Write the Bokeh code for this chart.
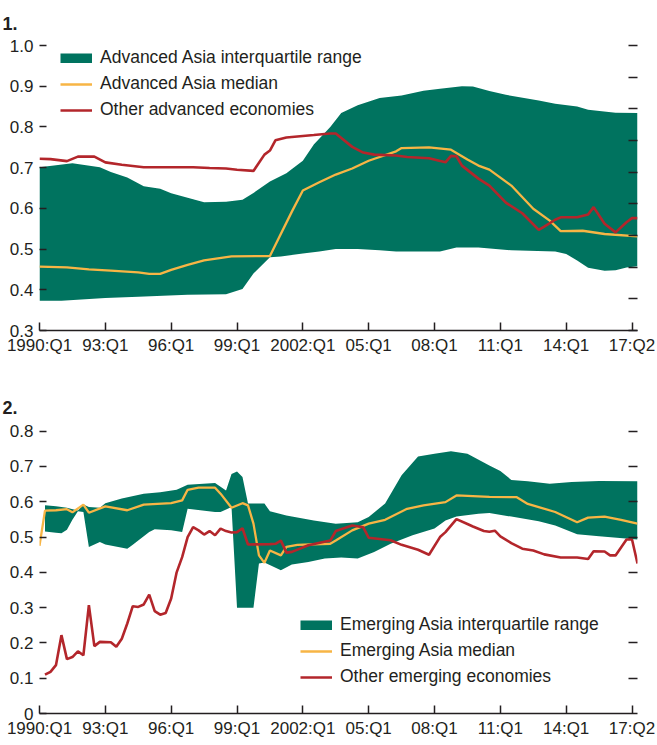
from bokeh.plotting import figure
from bokeh.models import FixedTicker, LinearAxis, Legend, LegendItem, Range1d
from bokeh.layouts import column
from bokeh.embed import file_html
from bokeh.resources import INLINE

FONT = "Liberation Sans"
TEXT = "#231f20"
TEAL = "#00735f"
GOLD = "#f7b545"
RED = "#b3262b"

# x positions are quarter indices counted from 1990:Q1 (= 0)
x_ticks = [0, 12, 24, 36, 48, 60, 72, 84, 96, 108]
x_labels = ["1990:Q1", "93:Q1", "96:Q1", "99:Q1", "2002:Q1", "05:Q1", "08:Q1", "11:Q1", "14:Q1", "17:Q2"]

# ---------------- Panel 1: advanced economies ----------------
y1_ticks = [0.3, 0.4, 0.5, 0.6, 0.7, 0.8, 0.9, 1.0]
y1_labels = ["0.3", "0.4", "0.5", "0.6", "0.7", "0.8", "0.9", "1.0"]

adv_upper_q = [0, 6, 11, 13, 16, 19, 22, 24, 27, 30, 34, 37, 39, 42, 45, 48, 50, 53, 55, 58, 62, 66, 70, 73, 77, 79, 82, 85, 91, 94, 98, 100, 105, 109]
adv_upper = [0.701, 0.711, 0.701, 0.689, 0.676, 0.654, 0.648, 0.637, 0.626, 0.615, 0.616, 0.621, 0.638, 0.666, 0.686, 0.717, 0.757, 0.800, 0.834, 0.853, 0.871, 0.877, 0.889, 0.894, 0.900, 0.899, 0.888, 0.879, 0.865, 0.857, 0.850, 0.842, 0.835, 0.834]

adv_lower_q = [0, 4, 12, 18, 27, 34, 37, 39, 42, 44, 48, 51, 54, 58, 62, 65, 73, 76, 80, 86, 94, 96, 98, 100, 103, 105, 107, 109]
adv_lower = [0.373, 0.373, 0.380, 0.383, 0.388, 0.389, 0.402, 0.440, 0.480, 0.482, 0.489, 0.494, 0.500, 0.500, 0.497, 0.494, 0.494, 0.504, 0.504, 0.497, 0.494, 0.488, 0.472, 0.454, 0.447, 0.448, 0.455, 0.458]

adv_median_q = [0, 5, 9, 13, 18, 20, 22, 24, 27, 30, 35, 42, 46, 48, 51, 54, 57, 60, 65, 66, 71, 75, 78, 80, 82, 86, 90, 93, 95, 99, 103, 109]
adv_median = [0.457, 0.455, 0.450, 0.447, 0.443, 0.439, 0.439, 0.449, 0.461, 0.472, 0.482, 0.483, 0.592, 0.644, 0.664, 0.683, 0.698, 0.717, 0.740, 0.748, 0.750, 0.744, 0.720, 0.705, 0.695, 0.656, 0.599, 0.570, 0.544, 0.545, 0.537, 0.531]

adv_other_q = [0, 2, 5, 7, 10, 12, 15, 19, 28, 31, 34, 36, 39, 41, 42, 43, 45, 50, 53, 54, 57, 59, 61, 65, 67, 71, 74, 75, 76, 77, 80, 82, 85, 88, 91, 92, 94, 95, 98, 100, 101, 103, 105, 107, 108, 109]
adv_other = [0.722, 0.721, 0.716, 0.727, 0.727, 0.713, 0.707, 0.701, 0.701, 0.699, 0.698, 0.695, 0.692, 0.732, 0.742, 0.767, 0.774, 0.780, 0.784, 0.784, 0.751, 0.737, 0.732, 0.730, 0.726, 0.723, 0.713, 0.729, 0.728, 0.705, 0.673, 0.656, 0.614, 0.588, 0.547, 0.555, 0.572, 0.578, 0.578, 0.585, 0.603, 0.562, 0.541, 0.566, 0.576, 0.576]

# ---------------- Panel 2: emerging economies ----------------
y2_ticks = [0, 0.1, 0.2, 0.3, 0.4, 0.5, 0.6, 0.7, 0.8]
y2_labels = ["0", "0.1", "0.2", "0.3", "0.4", "0.5", "0.6", "0.7", "0.8"]

em_upper_q = [1, 3, 5, 7, 8, 9, 11, 12, 15, 19, 22, 25, 27, 32, 34, 35, 36, 37, 38, 41, 42, 45, 50, 54, 58, 60, 63, 66, 69, 72, 75, 78, 82, 84, 86, 89, 93, 97, 102, 109]
em_upper = [0.590, 0.587, 0.583, 0.575, 0.592, 0.585, 0.583, 0.596, 0.609, 0.623, 0.627, 0.634, 0.648, 0.653, 0.632, 0.679, 0.686, 0.670, 0.595, 0.595, 0.573, 0.561, 0.547, 0.538, 0.542, 0.557, 0.595, 0.675, 0.728, 0.736, 0.743, 0.736, 0.703, 0.687, 0.662, 0.658, 0.651, 0.656, 0.659, 0.658]

em_lower_q = [1, 3, 4, 5, 6, 7, 8, 9, 11, 12, 16, 17, 20, 21, 24, 26, 27, 32, 33, 35, 36, 39, 40, 41, 44, 46, 49, 52, 55, 58, 61, 64, 68, 72, 74, 76, 80, 82, 86, 91, 94, 98, 102, 109]
em_lower = [0.516, 0.512, 0.511, 0.521, 0.549, 0.573, 0.571, 0.472, 0.486, 0.479, 0.467, 0.478, 0.514, 0.522, 0.519, 0.514, 0.580, 0.571, 0.571, 0.585, 0.300, 0.300, 0.425, 0.428, 0.406, 0.422, 0.429, 0.439, 0.442, 0.439, 0.458, 0.481, 0.505, 0.524, 0.547, 0.558, 0.566, 0.568, 0.558, 0.545, 0.533, 0.508, 0.502, 0.493]

em_median_q = [0, 1, 3, 5, 6, 8, 9, 12, 16, 19, 24, 26, 27, 29, 32, 33, 35, 37, 38, 39, 40, 41, 42, 44, 45, 47, 53, 54, 57, 60, 63, 67, 70, 74, 76, 82, 87, 89, 94, 98, 100, 103, 106, 109]
em_median = [0.475, 0.575, 0.576, 0.579, 0.570, 0.592, 0.569, 0.587, 0.576, 0.592, 0.596, 0.604, 0.634, 0.640, 0.640, 0.623, 0.583, 0.596, 0.590, 0.538, 0.448, 0.427, 0.462, 0.448, 0.472, 0.478, 0.481, 0.490, 0.519, 0.538, 0.549, 0.580, 0.590, 0.599, 0.618, 0.614, 0.613, 0.594, 0.571, 0.542, 0.555, 0.558, 0.549, 0.538]

em_other_q = [1, 2, 3, 4, 5, 6, 7, 8, 9, 10, 11, 13, 14, 15, 16, 17, 18, 19, 20, 21, 22, 23, 24, 25, 26, 27, 28, 29, 30, 31, 32, 33, 34, 35, 36, 37, 38, 42, 43, 44, 45, 46, 49, 53, 54, 57, 59, 60, 64, 66, 69, 71, 73, 74, 76, 78, 79, 81, 82, 83, 84, 86, 88, 90, 92, 95, 98, 100, 101, 103, 104, 105, 107, 108, 109]
em_other = [0.110, 0.118, 0.137, 0.222, 0.154, 0.160, 0.176, 0.165, 0.307, 0.191, 0.203, 0.202, 0.189, 0.212, 0.255, 0.304, 0.302, 0.309, 0.337, 0.290, 0.280, 0.285, 0.326, 0.400, 0.443, 0.500, 0.528, 0.519, 0.507, 0.517, 0.505, 0.524, 0.517, 0.513, 0.514, 0.525, 0.479, 0.480, 0.481, 0.490, 0.456, 0.458, 0.477, 0.490, 0.517, 0.533, 0.528, 0.498, 0.491, 0.478, 0.464, 0.450, 0.500, 0.514, 0.551, 0.537, 0.530, 0.517, 0.515, 0.518, 0.502, 0.483, 0.467, 0.462, 0.451, 0.442, 0.442, 0.438, 0.460, 0.459, 0.448, 0.448, 0.493, 0.493, 0.425]

NAN = float("nan")


def style_axes(p, y_ticks, y_labels, right_ticks):
    xa = p.xaxis[0]
    xa.ticker = FixedTicker(ticks=x_ticks)
    xa.major_label_overrides = dict(zip(x_ticks, x_labels))
    xa.minor_tick_line_color = None
    xa.major_tick_in = 8
    xa.major_tick_out = 0
    xa.major_tick_line_color = TEXT
    xa.major_tick_line_width = 1.5
    xa.axis_line_color = TEXT
    xa.axis_line_width = 1.5
    xa.major_label_standoff = 5
    xa.major_label_text_font = FONT
    xa.major_label_text_font_size = "17px"
    xa.major_label_text_color = TEXT

    ya = p.yaxis[0]
    ya.ticker = FixedTicker(ticks=y_ticks)
    ya.major_label_overrides = dict(zip(y_ticks, y_labels))
    ya.minor_tick_line_color = None
    ya.major_tick_in = 7
    ya.major_tick_out = 0
    ya.major_tick_line_color = TEXT
    ya.major_tick_line_width = 1.5
    ya.axis_line_color = None
    ya.major_label_standoff = 6
    ya.major_label_text_font = FONT
    ya.major_label_text_font_size = "17px"
    ya.major_label_text_color = TEXT

    ra = LinearAxis(ticker=FixedTicker(ticks=right_ticks))
    ra.axis_line_color = None
    ra.minor_tick_line_color = None
    ra.major_tick_in = 9
    ra.major_tick_out = 0
    ra.major_tick_line_color = TEXT
    ra.major_tick_line_width = 1.5
    ra.major_label_text_color = None
    ra.major_label_text_font_size = "1px"
    ra.major_label_standoff = 0
    p.add_layout(ra, "right")

    p.xgrid.grid_line_color = None
    p.ygrid.grid_line_color = None
    p.outline_line_color = None


def make_fig(title, height, y_start, y_end, border_top, standoff):
    p = figure(width=657, height=height, x_range=Range1d(0, 109),
               y_range=Range1d(y_start, y_end), output_backend="svg",
               toolbar_location=None, min_border_left=39, min_border_right=20,
               min_border_top=border_top, min_border_bottom=32)
    p.title.text = title
    p.title.text_font = FONT
    p.title.text_font_style = "bold"
    p.title.text_font_size = "18px"
    p.title.text_color = TEXT
    p.title.align = "left"
    p.title.offset = -37
    p.title.standoff = standoff
    return p


def band(p, uq, uv, lq, lv):
    xs = list(uq) + list(reversed(lq))
    ys = list(uv) + list(reversed(lv))
    p.patch(xs, ys, fill_color=TEAL, line_color=None)


def legend(items, loc):
    return Legend(items=items, location=loc, orientation="vertical",
                  glyph_width=32, glyph_height=10, label_height=21, spacing=5,
                  label_standoff=8, padding=0, margin=0,
                  border_line_color=None, background_fill_alpha=0,
                  label_text_font=FONT, label_text_font_size="17.5px",
                  label_text_color=TEXT)


# Panel 1
p1 = make_fig("1.", 362, 0.3, 1.0 + 10 / 407, 35, 11)
band(p1, adv_upper_q, adv_upper, adv_lower_q, adv_lower)
r1m = p1.line(adv_median_q, adv_median, line_color=GOLD, line_width=2.3)
r1o = p1.line(adv_other_q, adv_other, line_color=RED, line_width=2.6)
sw1 = p1.line(x=[NAN], y=[NAN], line_color=TEAL, line_width=10, line_cap="butt")
style_axes(p1, y1_ticks, y1_labels, [0.3 + k * 0.7 / 9 for k in range(10)])
p1.add_layout(legend([
    LegendItem(label="Advanced Asia interquartile range", renderers=[sw1]),
    LegendItem(label="Advanced Asia median", renderers=[r1m]),
    LegendItem(label="Other advanced economies", renderers=[r1o]),
], (21, 210)))

# Panel 2
p2 = make_fig("2.", 383, 0, 0.836, 56, 10)
band(p2, em_upper_q, em_upper, em_lower_q, em_lower)
r2m = p2.line(em_median_q, em_median, line_color=GOLD, line_width=2.3)
r2o = p2.line(em_other_q, em_other, line_color=RED, line_width=2.6)
sw2 = p2.line(x=[NAN], y=[NAN], line_color=TEAL, line_width=10, line_cap="butt")
style_axes(p2, y2_ticks, y2_labels, y2_ticks[1:])
p2.add_layout(legend([
    LegendItem(label="Emerging Asia interquartile range", renderers=[sw2]),
    LegendItem(label="Emerging Asia median", renderers=[r2m]),
    LegendItem(label="Other emerging economies", renderers=[r2o]),
], (261, 26)))

layout = column(p1, p2, spacing=0)
open("out.html", "w").write(file_html(layout, INLINE))
